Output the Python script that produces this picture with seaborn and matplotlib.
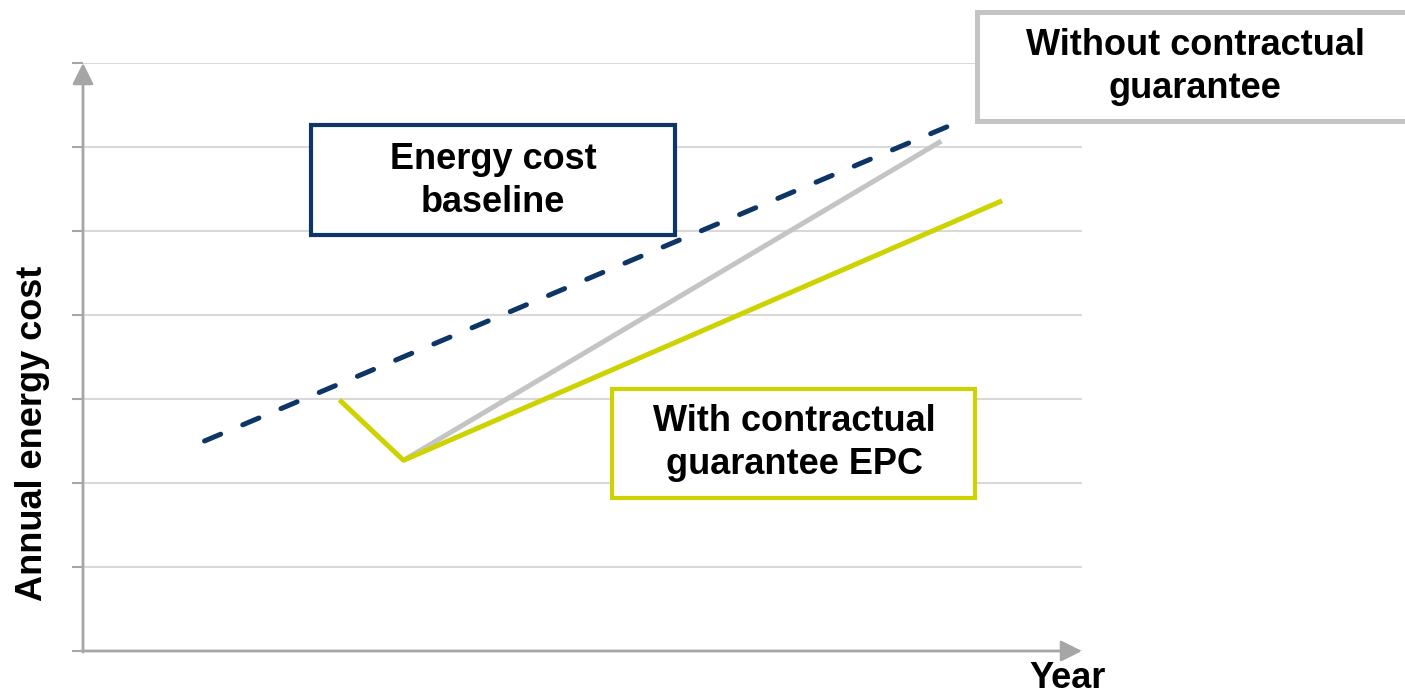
import matplotlib
matplotlib.use("Agg")
import matplotlib.pyplot as plt
from matplotlib.patches import Rectangle
import seaborn as sns
import pandas as pd

# Series (x in years, y in cost units)
baseline_x = [1.46, 10.52]
baseline_y = [2.50, 6.30]
epc_x = [3.08, 3.85, 11.04]
epc_y = [2.99, 2.27, 5.36]
nog_x = [3.85, 10.31]
nog_y = [2.27, 6.07]

NAVY = "#0d3566"
YELLOW = "#cdd300"
LGRAY = "#c4c4c4"
AXGRAY = "#a6a6a6"
GRID = "#d9d9d9"

sns.set_theme(style="white")
plt.rcParams["font.family"] = ["Liberation Sans", "DejaVu Sans"]

W, H = 1405, 696
fig = plt.figure(figsize=(W / 100, H / 100), dpi=100)
ax = fig.add_axes([83 / W, 1 - 651 / H, (1082 - 83) / W, (651 - 63) / H])
ax.set_xlim(0, 12)
ax.set_ylim(0, 7)

# Horizontal grid and left ticks
ax.set_yticks(range(0, 8))
ax.set_yticklabels([])
ax.set_xticks([])
ax.grid(axis="y", color=GRID, lw=1.5)
ax.tick_params(axis="y", left=True, length=8, width=1.5, color=AXGRAY)
for s in ax.spines.values():
    s.set_visible(False)

df_base = pd.DataFrame({"x": baseline_x, "y": baseline_y})
df_epc = pd.DataFrame({"x": epc_x, "y": epc_y})
df_nog = pd.DataFrame({"x": nog_x, "y": nog_y})

sns.lineplot(data=df_nog, x="x", y="y", ax=ax, color=LGRAY, lw=3.6,
             sort=False, solid_capstyle="butt")
sns.lineplot(data=df_epc, x="x", y="y", ax=ax, color=YELLOW, lw=3.6,
             sort=False, solid_capstyle="butt")
sns.lineplot(data=df_base, x="x", y="y", ax=ax, color=NAVY, lw=3.6,
             sort=False, dashes=False)
ax.lines[-1].set_dash_capstyle("round")
ax.lines[-1].set_dashes([3.5, 4.8])
ax.set_xlabel("")
ax.set_ylabel("")

# Axis arrows
arrow_kw = dict(arrowstyle="-|>", color=AXGRAY, lw=2, mutation_scale=32,
                shrinkA=0, shrinkB=0)
ax.annotate("", xy=(0, 1), xytext=(0, -0.002), xycoords="axes fraction",
            arrowprops=arrow_kw, annotation_clip=False)
ax.annotate("", xy=(1, 0), xytext=(-0.001, 0), xycoords="axes fraction",
            arrowprops=arrow_kw, annotation_clip=False)

def px_box(x0, y0, x1, y1, color, lw):
    r = Rectangle((x0 / W, 1 - y1 / H), (x1 - x0) / W, (y1 - y0) / H,
                  transform=fig.transFigure, fill=True, facecolor="white",
                  edgecolor=color, lw=lw, zorder=5, clip_on=False)
    fig.add_artist(r)

def px_text(x, y, s, **kw):
    fig.text(x / W, 1 - y / H, s, fontsize=26, fontweight="bold",
             color="black", ha="center", va="center", linespacing=1.32,
             zorder=6, **kw)

px_box(311, 125, 675, 235, NAVY, 3)
px_text(493, 181, "Energy cost\nbaseline")

px_box(977, 12, 1420, 121, LGRAY, 3.6)
px_text(1195, 67, "Without contractual\nguarantee")

px_box(612, 389, 975, 498, YELLOW, 3)
px_text(794, 443, "With contractual\nguarantee EPC")

px_text(1068, 679, "Year")
px_text(33, 433, "Annual energy cost", rotation=90)

fig.savefig("out.png", dpi=100)
